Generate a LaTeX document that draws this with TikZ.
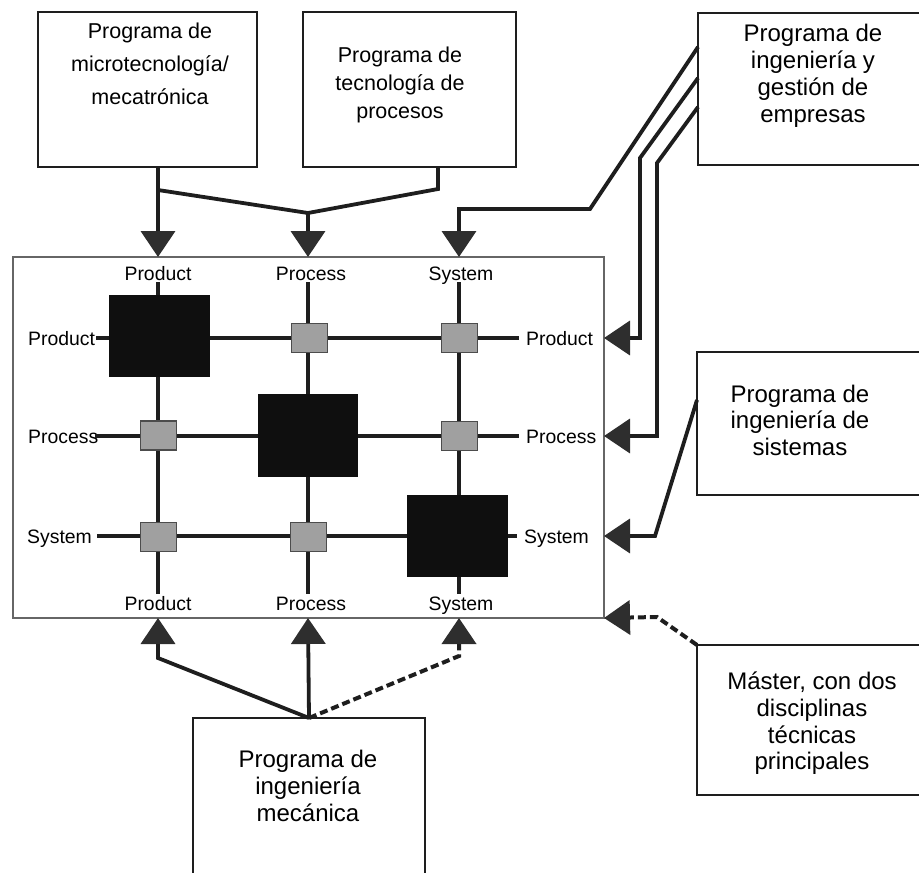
\documentclass[tikz,border=0pt]{standalone}
\usepackage{fontspec}
\setmainfont{Liberation Sans}
\usetikzlibrary{arrows.meta}
\definecolor{ink}{HTML}{1E1E1E}
\definecolor{tipc}{HTML}{2E2E2E}
\definecolor{cellgray}{HTML}{A0A0A0}
\definecolor{frame}{HTML}{666666}
\begin{document}
\begin{tikzpicture}[x=1pt,y=-1pt,
  progbox/.style={draw=ink, line width=2.7pt, inner sep=0pt, outer sep=0pt},
  boxtext/.style={align=center, inner sep=0pt, font=\fontsize{24}{27}\selectfont},
  smalltext/.style={align=center, inner sep=0pt},
  axislabel/.style={font=\fontsize{19.4}{22}\selectfont, text height=14pt, text depth=0pt, inner sep=2pt},
  gridline/.style={draw=ink, line width=3.8pt},
  bigcell/.style={fill=black!94, inner sep=0pt, minimum width=101pt, minimum height=82pt},
  smallcell/.style={fill=cellgray, draw=black!70, line width=1.2pt, inner sep=0pt, minimum width=36pt, minimum height=29pt},
  conn/.style={draw=ink, line width=3.8pt},
  dashconn/.style={draw=ink, line width=4pt, dash pattern=on 8pt off 4pt},
  tip/.style={-{Triangle[width=34pt,length=26pt,color=tipc]}}
]
\useasboundingbox (0,0) rectangle (919,873);
\clip (0,0) rectangle (919,873);

% programme boxes
\node[progbox, minimum width=219pt, minimum height=155pt] (b1) at (147.5,89.5) {};
\node[smalltext, font=\fontsize{21.5}{33}\selectfont] (t1) at (150,64) {Programa de\\microtecnología/\\mecatrónica};

\node[progbox, minimum width=213pt, minimum height=155pt] (b2) at (409.5,89.5) {};
\node[smalltext, font=\fontsize{21.5}{28}\selectfont] (t2) at (400,84.5) {Programa de\\tecnología de\\procesos};

\node[progbox, minimum width=227pt, minimum height=152pt] (b3) at (811.5,89) {};
\node[boxtext] (t3) at (813,76) {Programa de\\ingeniería y\\gestión de\\empresas};

\node[progbox, minimum width=228pt, minimum height=143pt] (b4) at (811,423.5) {};
\node[boxtext, font=\fontsize{24}{26.5}\selectfont] (t4) at (800,420) {Programa de\\ingeniería de\\sistemas};

\node[progbox, minimum width=228pt, minimum height=150pt] (b5) at (811,720) {};
\node[boxtext, font=\fontsize{24}{26.7}\selectfont] (t5) at (812,723.5) {Máster, con dos\\disciplinas\\técnicas\\principales};

\node[progbox, minimum width=232pt, minimum height=167pt] (b6) at (309,801.5) {};
\node[boxtext] (t6) at (308,786) {Programa de\\ingeniería\\mecánica};

% product / process / system matrix
\node[draw=frame, line width=1.6pt, inner sep=0pt, outer sep=0pt,
      minimum width=591pt, minimum height=361pt] (mat) at (308.5,437.5) {};

\coordinate (c1) at (158,0);
\coordinate (c2) at (308,0);
\coordinate (c3) at (459,0);
\coordinate (r1) at (0,338);
\coordinate (r2) at (0,436);
\coordinate (r3) at (0,536);

\node[axislabel] (tp1) at (158,273) {Product};
\node[axislabel] (tp2) at (311,273) {Process};
\node[axislabel] (tp3) at (461,273) {System};
\node[axislabel] (bp1) at (158,603) {Product};
\node[axislabel] (bp2) at (311,603) {Process};
\node[axislabel] (bp3) at (461,603) {System};

\node[axislabel, anchor=west, inner sep=1pt] (lp1) at (27,338) {Product};
\node[axislabel, anchor=west, inner sep=1pt] (lp2) at (27,436) {Process};
\node[axislabel, anchor=west, inner sep=1pt] (lp3) at (26,536) {System};
\node[axislabel, anchor=west, inner sep=1pt] (rp1) at (525,338) {Product};
\node[axislabel, anchor=west, inner sep=1pt] (rp2) at (525,436) {Process};
\node[axislabel, anchor=west, inner sep=1pt] (rp3) at (523,536) {System};

\draw[gridline] (tp1.south -| c1) -- (bp1.north -| c1);
\draw[gridline] (tp2.south -| c2) -- (bp2.north -| c2);
\draw[gridline] (tp3.south -| c3) -- (bp3.north -| c3);
\draw[gridline, shorten >=6pt] (lp1.east |- r1) -- (rp1.west |- r1);
\draw[gridline, shorten <=-4pt, shorten >=6pt] (lp2.east |- r2) -- (rp2.west |- r2);
\draw[gridline, shorten <=4pt, shorten >=6pt] (lp3.east |- r3) -- (rp3.west |- r3);

\node[bigcell] (k11) at (159,336) {};
\node[bigcell, minimum width=100pt, minimum height=83pt] (k22) at (308,435.5) {};
\node[bigcell] (k33) at (457.5,536) {};
\node[smallcell] (k21) at (309.5,338) {};
\node[smallcell] (k31) at (459.5,338) {};
\node[smallcell] (k12) at (158.5,435.5) {};
\node[smallcell] (k32) at (459.5,436) {};
\node[smallcell] (k13) at (158.5,537) {};
\node[smallcell] (k23) at (308.5,537) {};

% connectors into the matrix
\coordinate (j2) at (308,213);
\draw[conn, tip] ([xshift=10.5pt]b1.south) -- (mat.north -| c1);
\draw[conn, tip] ([xshift=10.5pt]b1.south) -- ++(0,23) -- (j2) -- (mat.north -| c2);
\draw[conn] ([xshift=28.5pt]b2.south) -- ++(0,22) -- (j2);

\draw[conn, tip] ([yshift=42pt]b3.west) -- (590,209) -| (mat.north -| c3);
\draw[conn, tip] ([yshift=11pt]b3.west) -- (640,158) |- (mat.east |- r1);
\draw[conn, tip] ([yshift=-18pt]b3.west) -- (657,163) |- (mat.east |- r2);
\draw[conn, tip] ([yshift=23.5pt]b4.west) -- (655,536) -- (mat.east |- r3);
\draw[dashconn, tip] (b5.north west) -- (657,617) -- (mat.south east);

\draw[conn, tip] (b6.north) -- (mat.south -| c2);
\draw[conn, tip] (b6.north) -- (158,658) -- (mat.south -| c1);
\draw[dashconn, tip] (b6.north) -- (459,656) -- (mat.south -| c3);
\end{tikzpicture}
\end{document}
